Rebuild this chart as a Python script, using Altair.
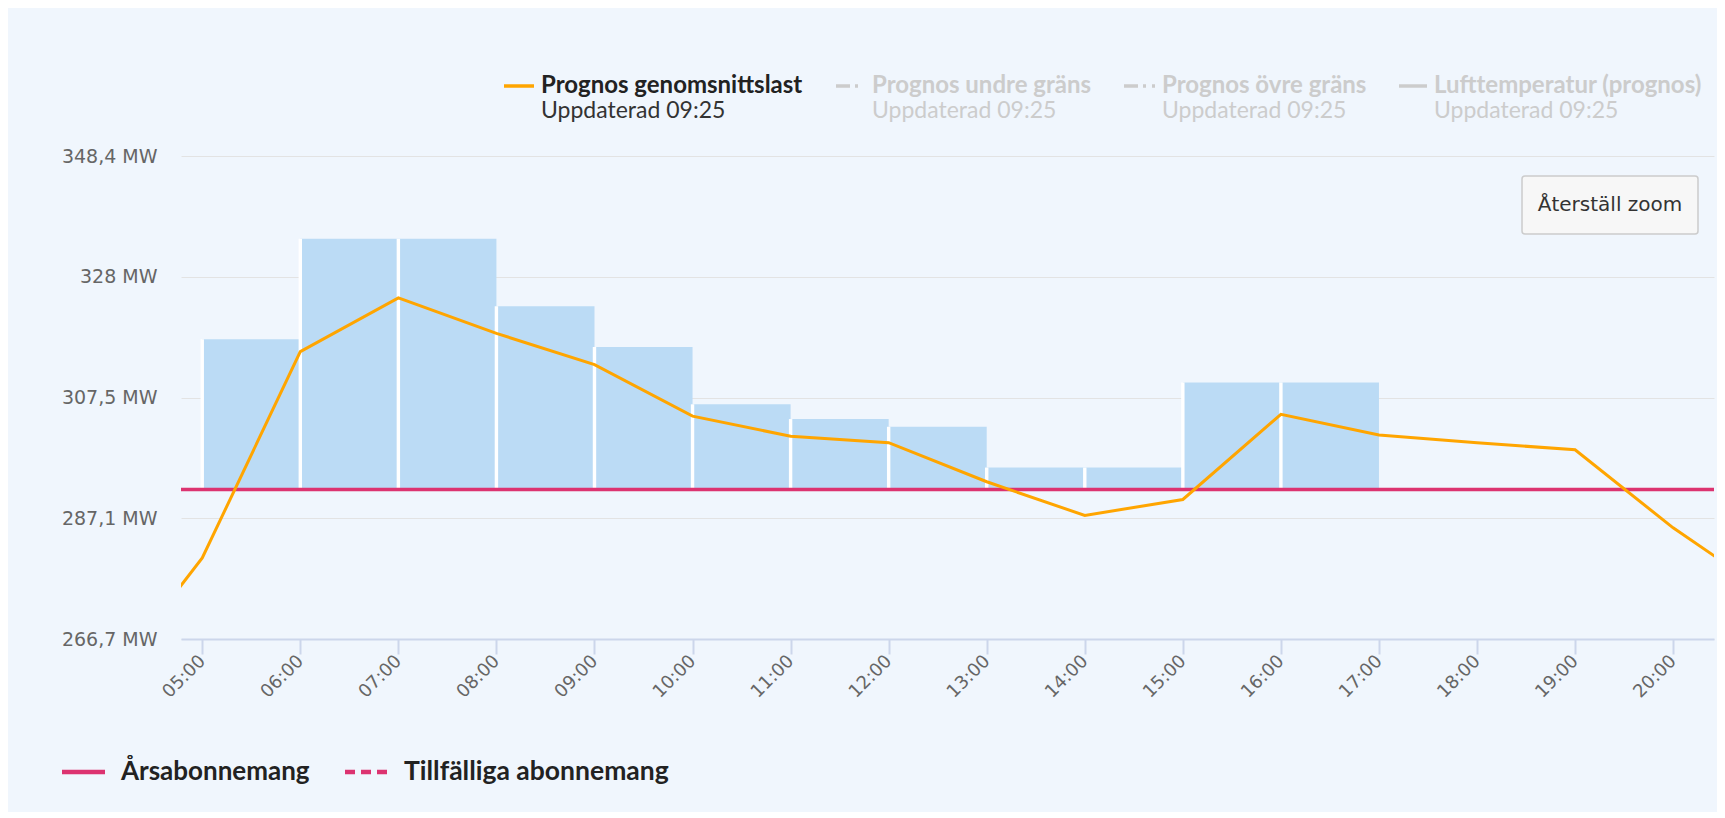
import altair as alt
import pandas as pd

DAY = "2024-03-15"

# ---- data ----
line_hours = ["04:00", "05:00", "06:00", "07:00", "08:00", "09:00", "10:00", "11:00", "12:00",
              "13:00", "14:00", "15:00", "16:00", "17:00", "18:00", "19:00", "20:00", "21:00"]
line_values = [258.9, 280.4, 315.3, 324.4, 318.4, 313.1, 304.4, 301.0, 299.9,
               293.3, 287.6, 290.3, 304.7, 301.2, 299.9, 298.7, 285.5, 274.2]

bar_start = ["05:00", "06:00", "07:00", "08:00", "09:00", "10:00", "11:00", "12:00",
             "13:00", "14:00", "15:00", "16:00"]
bar_end = ["06:00", "07:00", "08:00", "09:00", "10:00", "11:00", "12:00", "13:00",
           "14:00", "15:00", "16:00", "17:00"]
bar_values = [317.4, 334.4, 334.4, 323.0, 316.1, 306.4, 303.9, 302.6, 295.7, 295.7, 310.1, 310.1]

subscription_level = [292.0]

y_tick_values = [266.7, 287.1, 307.5, 328.0, 348.4]
y_tick_labels = ["266,7 MW", "287,1 MW", "307,5 MW", "328 MW", "348,4 MW"]
x_tick_labels = ["05:00", "06:00", "07:00", "08:00", "09:00", "10:00", "11:00", "12:00",
                 "13:00", "14:00", "15:00", "16:00", "17:00", "18:00", "19:00", "20:00"]

legend_top = ["Prognos genomsnittslast", "Prognos undre gräns", "Prognos övre gräns", "Lufttemperatur (prognos)"]
legend_sub = "Uppdaterad 09:25"
legend_bottom = ["Årsabonnemang", "Tillfälliga abonnemang"]
button_text = "Återställ zoom"

# ---- tables ----
line_df = pd.DataFrame({"t": [f"{DAY}T{h}:00" for h in line_hours], "value": line_values})
bar_df = pd.DataFrame({
    "start": [f"{DAY}T{h}:00" for h in bar_start],
    "end": [f"{DAY}T{h}:00" for h in bar_end],
    "value": bar_values,
    "base": subscription_level * len(bar_values),
})
level_df = pd.DataFrame({"level": subscription_level})


def dt(h, m=0):
    return alt.DateTime(year=2024, month=3, date=15, hours=h, minutes=m)


W, H = 1533, 483
BG = "#f0f6fd"
PINK = "#dc3370"
ORANGE = "#ffa500"

x_scale = alt.Scale(domain=[dt(4, 47), dt(20, 25)])
y_scale = alt.Scale(domain=[y_tick_values[0], y_tick_values[-1]], nice=False, zero=False)

label_expr = " : ".join(
    [f"datum.value == {v} ? '{l}'" for v, l in zip(y_tick_values, y_tick_labels)]
) + " : ''"

x_axis = alt.Axis(
    title=None, values=[dt(int(s[:2])) for s in x_tick_labels], format="%H:%M",
    labelAngle=-45, labelAlign="right", labelBaseline="middle",
    labelFont="DejaVu Sans", labelFontSize=18, labelColor="#666666", labelPadding=4,
    domainColor="#ccd6eb", domainWidth=2, tickColor="#ccd6eb", tickWidth=2, tickSize=15,
    grid=False, labelOverlap=False,
)
y_axis = alt.Axis(
    title=None, values=y_tick_values, labelExpr=label_expr,
    labelFont="DejaVu Sans", labelFontSize=19, labelColor="#666666", labelPadding=24,
    domain=False, ticks=False, grid=True, gridColor="#e3e3e3", gridWidth=1.2,
)

bars = alt.Chart(bar_df).mark_bar(color="#bbdbf5").encode(
    x=alt.X("start:T", scale=x_scale, axis=x_axis),
    x2="end:T",
    y=alt.Y("value:Q", scale=y_scale, axis=y_axis),
    y2="base:Q",
)

# white separators between neighbouring columns (column border)
separators = alt.Chart(bar_df).mark_rule(color="white", strokeWidth=3.4).encode(
    x=alt.X("start:T", scale=x_scale, axis=x_axis),
    y=alt.Y("value:Q", scale=y_scale, axis=y_axis),
    y2="base:Q",
)

level = alt.Chart(level_df).mark_rule(color=PINK, strokeWidth=3.5).encode(
    y=alt.Y("level:Q", scale=y_scale, axis=y_axis)
)

line = alt.Chart(line_df).mark_line(color=ORANGE, strokeWidth=3, clip=True).encode(
    x=alt.X("t:T", scale=x_scale, axis=x_axis),
    y=alt.Y("value:Q", scale=y_scale, axis=y_axis),
)

one = alt.Data(values=[{}])


def seg(x1, x2, y, color, width, dash=None):
    kw = dict(color=color, strokeWidth=width)
    if dash:
        kw["strokeDash"] = dash
    return alt.Chart(one).mark_rule(**kw).encode(
        x=alt.value(x1), x2=alt.value(x2), y=alt.value(y))


def txt(x, y, s, size, color, weight="normal", font="Lato", align="left"):
    return alt.Chart(one).mark_text(
        text=s, font=font, fontSize=size, fontWeight=weight, color=color,
        align=align, baseline="middle").encode(x=alt.value(x), y=alt.value(y))


# top legend (plot-area coordinates)
TOPY1, TOPY2 = -70, -45
DARK = "#222222"
GREY = "#cccccc"
top_items = [
    seg(323, 353, TOPY1, ORANGE, 3.5),
    txt(360, TOPY1, legend_top[0], 24, DARK, "bold"),
    txt(360, TOPY2, legend_sub, 23, "#333333"),
    seg(655, 683, TOPY1, GREY, 3.5, [14, 5, 3, 6]),
    txt(691, TOPY1, legend_top[1], 24, GREY, "bold"),
    txt(691, TOPY2, legend_sub, 23, GREY),
    seg(943, 974, TOPY1, GREY, 3.5, [14, 5, 3, 6]),
    txt(981, TOPY1, legend_top[2], 24, GREY, "bold"),
    txt(981, TOPY2, legend_sub, 23, GREY),
    seg(1218, 1246, TOPY1, GREY, 3.5),
    txt(1253, TOPY1, legend_top[3], 24, GREY, "bold"),
    txt(1253, TOPY2, legend_sub, 23, GREY),
]

# bottom legend
BY = 616
bottom_items = [
    seg(-119, -76, BY, PINK, 4.5),
    txt(-60, BY, legend_bottom[0], 26, DARK, "bold"),
    seg(164, 207, BY, PINK, 4.5, [10, 6]),
    txt(223, BY, legend_bottom[1], 26.5, DARK, "bold"),
]

# reset-zoom button
button = [
    alt.Chart(one).mark_rect(fill="#f7f7f7", stroke="#cccccc", strokeWidth=1.5, cornerRadius=3).encode(
        x=alt.value(1341), x2=alt.value(1517), y=alt.value(20), y2=alt.value(78)),
    txt(1429, 49, button_text, 20, "#333333", font="DejaVu Sans", align="center"),
]

chart = alt.layer(bars, separators, level, line, *top_items, *bottom_items, *button).properties(
    width=W, height=H,
    autosize=alt.AutoSizeParams(type="none"),
    padding={"left": 173, "top": 148, "right": 3, "bottom": 173},
    background=BG,
).configure_view(stroke=None)

chart.save("out.html", embed_options={"renderer": "svg", "actions": False})
